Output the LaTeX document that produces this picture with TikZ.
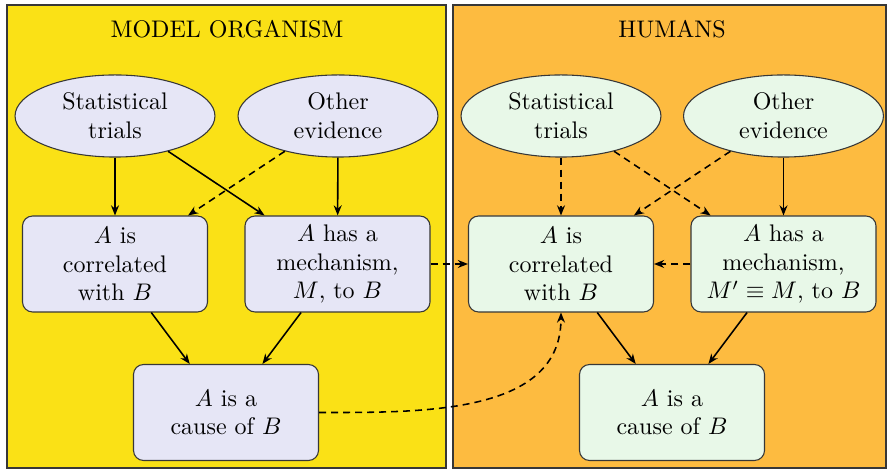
\documentclass[tikz,border=0pt]{standalone}
\usetikzlibrary{shapes.geometric,arrows.meta}
\definecolor{panelY}{RGB}{250,225,22}
\definecolor{panelO}{RGB}{253,187,64}
\definecolor{lav}{RGB}{230,230,246}
\definecolor{mint}{RGB}{232,248,232}
\definecolor{edge}{RGB}{55,55,55}
\tikzset{
  panel/.style={draw=edge, line width=0.45pt},
  ell/.style={ellipse, draw=edge, line width=0.45pt, minimum width=83.3pt, minimum height=34.2pt, inner sep=0pt, align=center},
  box/.style={draw=edge, line width=0.45pt, rounded corners=4.2pt, minimum width=77.1pt, minimum height=40pt, inner sep=0pt, align=center},
  arr/.style={line width=0.65pt, -{Stealth[length=4.2pt,width=3.3pt]}},
  darr/.style={arr, dash pattern=on 2.9pt off 2.1pt},
  ttl/.style={inner sep=0pt}
}
\begin{document}
\begin{tikzpicture}[x=0.416667pt,y=-0.416667pt,font=\fontsize{10}{12}\selectfont]
\useasboundingbox (0,0) rectangle (889,470);
\path[panel, fill=panelY] (7,5) rectangle (446,468);
\path[panel, fill=panelO] (453,5) rectangle (886,468);
\node[ttl] (t1) at (227,29) {MODEL ORGANISM};
\node[ttl] (t2) at (672,29) {HUMANS};
% left
\node[ell, fill=lav] (s1) at (115,116) {Statistical\\trials};
\node[ell, fill=lav] (o1) at (338,116) {Other\\evidence};
\node[box, fill=lav] (c1) at (115,264) {$A$ is\\correlated\\with $B$};
\node[box, fill=lav] (m1) at (337.5,264) {$A$ has a\\mechanism,\\$M$, to $B$};
\node[box, fill=lav] (k1) at (226,412.5) {$A$ is a\\cause of $B$};
% right
\node[ell, fill=mint] (s2) at (561,116) {Statistical\\trials};
\node[ell, fill=mint] (o2) at (783.5,116) {Other\\evidence};
\node[box, fill=mint] (c2) at (561,264) {$A$ is\\correlated\\with $B$};
\node[box, fill=mint] (m2) at (783.5,264) {$A$ has a\\mechanism,\\$M'\equiv M$, to $B$};
\node[box, fill=mint] (k2) at (672,412.5) {$A$ is a\\cause of $B$};
% left arrows
\draw[arr] (s1) -- (c1);
\draw[arr] (s1) -- (m1);
\draw[darr] (o1) -- (c1);
\draw[arr] (o1) -- (m1);
\draw[arr] (c1) -- (k1);
\draw[arr] (m1) -- (k1);
% cross
\draw[darr] (m1) -- (c2);
\draw[darr] (k1.east) to[out=0,in=-90] (c2.south);
% right arrows
\draw[darr] (s2) -- (c2);
\draw[darr] (s2) -- (m2);
\draw[darr] (o2) -- (c2);
\draw[arr] (o2) -- (m2);
\draw[darr] (m2) -- (c2);
\draw[arr] (c2) -- (k2);
\draw[arr] (m2) -- (k2);
\end{tikzpicture}
\end{document}
